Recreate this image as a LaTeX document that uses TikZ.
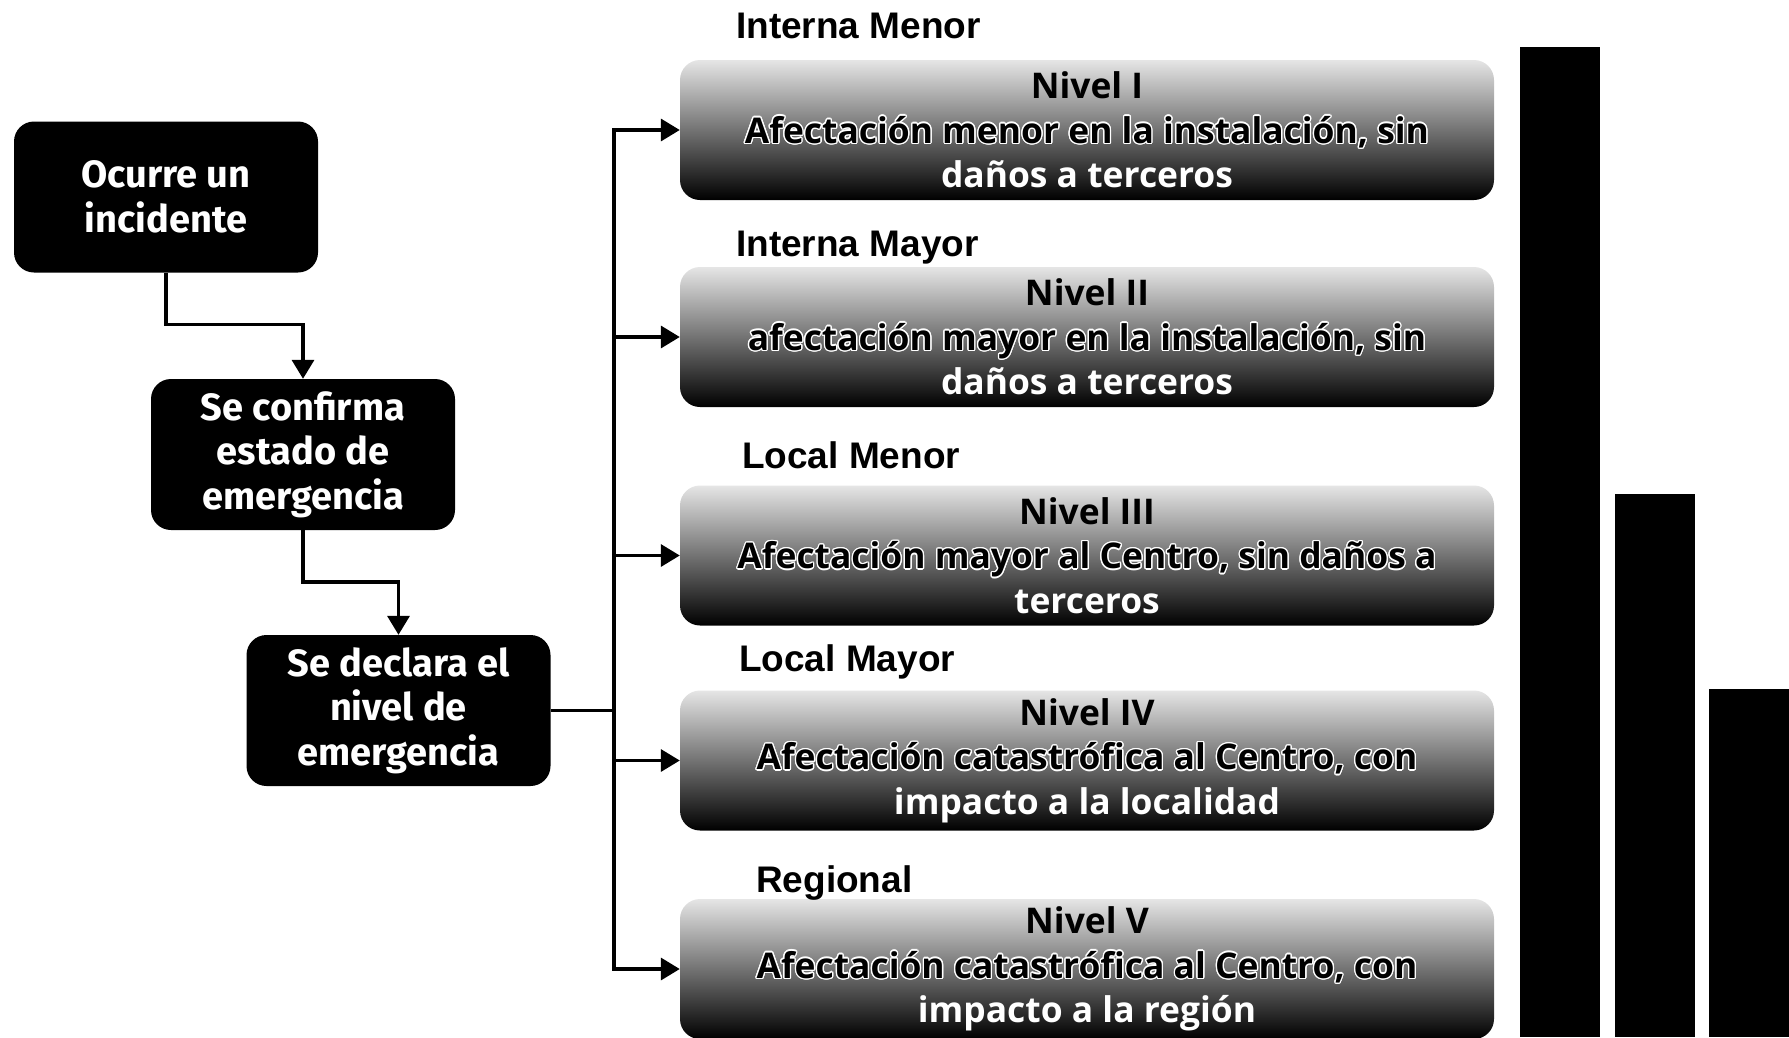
\documentclass[tikz,border=0pt]{standalone}
\usepackage{fontspec}
\setmainfont{Fira Sans}
\newfontfamily\hdfont{Liberation Sans}
\newfontfamily\lvfont{Open Sans}
\usepackage{contour}
\contourlength{1.3pt}
\usetikzlibrary{arrows.meta}
\begin{document}
\begin{tikzpicture}[x=1pt,y=-1pt,
  blk/.style={fill=black, rounded corners=20pt, text=white, align=center,
    font=\fontsize{38}{44.5}\selectfont\bfseries,
    minimum width=304pt, minimum height=151pt, inner sep=0pt},
  lvl/.style={rounded corners=20pt, top color=black!10, middle color=black!55, bottom color=black,
    minimum width=814pt, minimum height=140pt, inner sep=0pt, align=center,
    font=\lvfont\fontsize{35.4}{44.5}\selectfont\bfseries},
  hdr/.style={anchor=base west, inner sep=0pt, font=\hdfont\fontsize{37}{40}\selectfont\bfseries},
  bar/.style={fill=black, inner sep=0pt, minimum width=80pt},
  conn/.style={line width=3.5pt},
  arr/.style={conn, -{Triangle[length=19pt,width=22pt]}}
]
\useasboundingbox (0,0) rectangle (1789,1037);

% left flow
\node[blk] (b1) at (166,197) {Ocurre un\\incidente};
\node[blk] (b2) at (303,454.5) {Se confirma\\estado de\\emergencia};
\node[blk] (b3) at (398.5,710.5) {Se declara el\\nivel de\\emergencia};

% level boxes
\node[lvl] (L1) at (1087,130) {Nivel I\\\contour{white}{Afectación menor en la instalación, sin}\\\textcolor{white}{daños a terceros}};
\node[lvl] (L2) at (1087,337) {Nivel II\\\contour{white}{afectación mayor en la instalación, sin}\\\textcolor{white}{daños  a terceros}};
\node[lvl] (L3) at (1087,555.5) {Nivel III\\\contour{white}{Afectación mayor al Centro, sin daños a}\\\textcolor{white}{terceros}};
\node[lvl] (L4) at (1087,760.5) {Nivel IV\\\contour{white}{Afectación catastrófica al Centro, con}\\\textcolor{white}{impacto a la localidad}};
\node[lvl] (L5) at (1087,969) {Nivel V\\\contour{white}{Afectación catastrófica al Centro, con}\\\textcolor{white}{impacto a la región}};

% headers
\node[hdr] (h1) at (736,38) {Interna Menor};
\node[hdr] (h2) at (736,256) {Interna Mayor};
\node[hdr] (h3) at (742,468) {Local Menor};
\node[hdr] (h4) at (739,671) {Local Mayor};
\node[hdr] (h5) at (756,892) {Regional};

% bars
\node[bar, minimum height=990pt] (bar1) at (1560,542) {};
\node[bar, minimum height=543pt] (bar2) at (1655,765.5) {};
\node[bar, minimum height=348pt] (bar3) at (1749,863) {};

% connectors
\draw[arr] (b1.south) -- ++(0,52) -| (b2.north);
\draw[arr] (b2.south) -- ++(0,52) -| (b3.north);
\coordinate (tr) at (614,710.5);
\draw[conn] (b3.east) -- (tr);
\foreach \n in {L1,L2,L3,L4,L5} \draw[arr] (tr) |- (\n.west);
\end{tikzpicture}
\end{document}
